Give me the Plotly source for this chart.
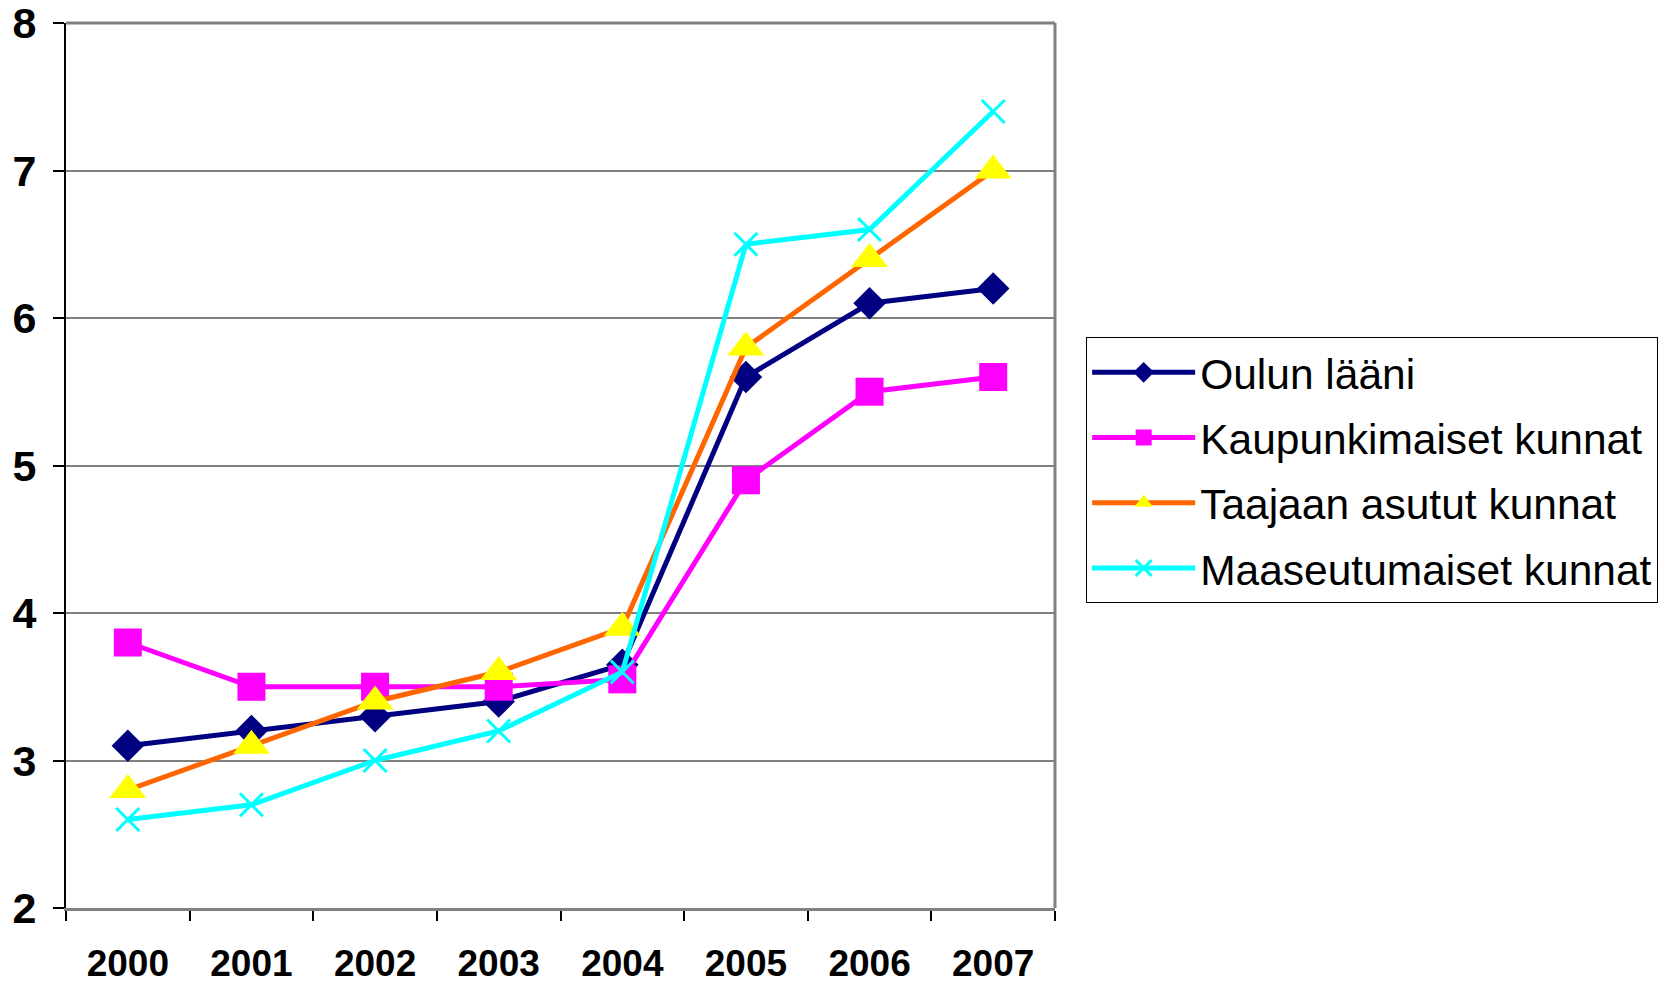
import plotly.graph_objects as go

years = ["2000", "2001", "2002", "2003", "2004", "2005", "2006", "2007"]
oulun_laani = [3.1, 3.2, 3.3, 3.4, 3.65, 5.6, 6.1, 6.2]
kaupunkimaiset = [3.8, 3.5, 3.5, 3.5, 3.55, 4.9, 5.5, 5.6]
taajaan_asutut = [2.8, 3.1, 3.4, 3.6, 3.9, 5.8, 6.4, 7.0]
maaseutumaiset = [2.6, 2.7, 3.0, 3.2, 3.6, 6.5, 6.6, 7.4]

series_names = ["Oulun lääni", "Kaupunkimaiset kunnat", "Taajaan asutut kunnat", "Maaseutumaiset kunnat"]

fig = go.Figure()
fig.add_trace(go.Scatter(x=years, y=oulun_laani, name=series_names[0], mode="lines+markers",
                         legendgroup="a",
                         line=dict(color="#000080", width=5),
                         marker=dict(symbol="diamond", size=25, color="#000080")))
fig.add_trace(go.Scatter(x=years, y=kaupunkimaiset, name=series_names[1], mode="lines+markers",
                         legendgroup="b",
                         line=dict(color="#FF00FF", width=5),
                         marker=dict(symbol="square", size=28, color="#FF00FF")))
fig.add_trace(go.Scatter(x=years, y=taajaan_asutut, name=series_names[2], mode="lines+markers",
                         legendgroup="c",
                         line=dict(color="#FF6600", width=5),
                         marker=dict(symbol="triangle-up", size=32, color="#FFFF00")))
fig.add_trace(go.Scatter(x=years, y=maaseutumaiset, name=series_names[3], mode="lines+markers",
                         legendgroup="d",
                         line=dict(color="#00FFFF", width=5),
                         marker=dict(symbol="x-thin", size=23, color="#00FFFF",
                                     line=dict(color="#00FFFF", width=3))))

fig.update_layout(
    width=1662, height=976,
    margin=dict(l=58, r=610, t=15, b=76),
    paper_bgcolor="white", plot_bgcolor="white",
    font=dict(family="Liberation Sans, Arial, sans-serif", color="black"),
    showlegend=True,
    legend=dict(
        x=1.0315, y=0.645, xanchor="left", yanchor="top",
        font=dict(size=42.5, family="Liberation Sans, Arial, sans-serif"),
        bordercolor="black", borderwidth=1, bgcolor="white",
        itemwidth=103, traceorder="grouped", tracegroupgap=7,
    ),
    xaxis=dict(
        type="category", range=[-0.5, 7.5], tickson="boundaries", ticks="outside", ticklen=10,
        tickcolor="black", tickwidth=1.5, automargin=False,
        showgrid=False, showline=True, linecolor="#808080", linewidth=3,
        tickfont=dict(size=37, weight="bold"), ticklabelstandoff=21,
        ticklabeloverflow="allow",
        zeroline=False, fixedrange=True,
    ),
    yaxis=dict(
        range=[2, 8], dtick=1, tick0=2, ticks="outside", ticklen=11,
        tickcolor="black", tickwidth=1.5, automargin=False,
        showgrid=True, gridcolor="#808080", gridwidth=1.5,
        showline=True, linecolor="black", linewidth=2,
        tickfont=dict(size=43, weight="bold"), ticklabelstandoff=8,
        ticklabeloverflow="allow",
        zeroline=False, fixedrange=True,
    ),
    shapes=[
        dict(type="line", xref="paper", yref="paper", x0=0, x1=1, y0=1, y1=1,
             line=dict(color="#808080", width=3), layer="below"),
        dict(type="line", xref="paper", yref="paper", x0=1, x1=1, y0=0, y1=1,
             line=dict(color="#808080", width=3), layer="below"),
    ],
)

fig.write_html("out.html")
